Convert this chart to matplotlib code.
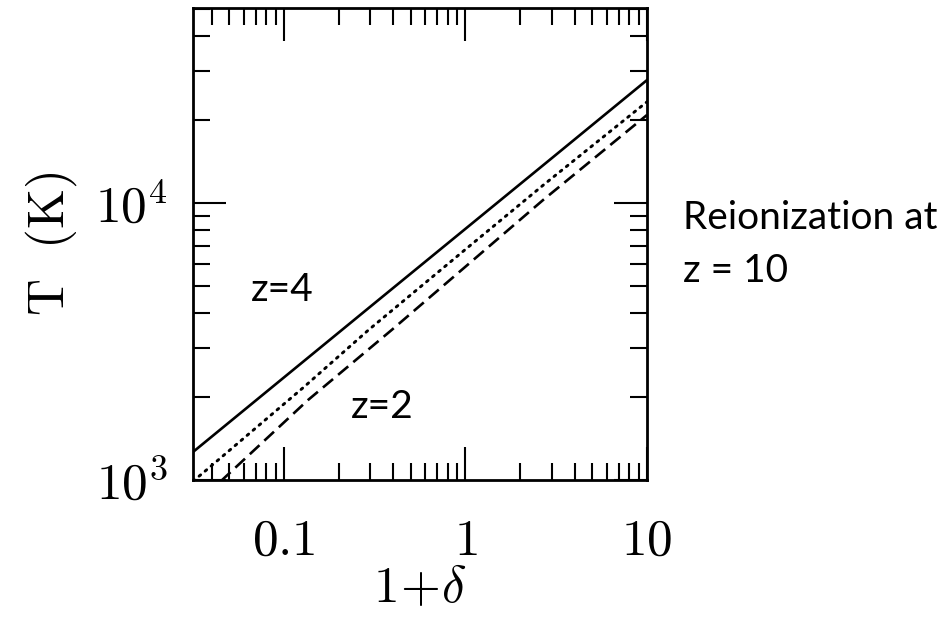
import numpy as np
import matplotlib
matplotlib.use("Agg")
import matplotlib.pyplot as plt
from matplotlib.ticker import LogLocator, NullFormatter

# --------------------------------------------------
# Data
# --------------------------------------------------

delta_solid = [0.0316, 0.1, 0.3, 1.0, 3.0, 10.0]
T_solid = [1262, 2344, 4230, 8070, 14550, 27800]

delta_dotted = [0.0316, 0.0353, 0.129, 0.293, 1.0, 2.68, 10.0]
T_dotted = [990, 1051, 2166, 3483, 6800, 11600, 23200]

delta_dashed = [0.045, 0.0476, 0.136, 0.393, 1.0, 2.68, 10.0]
T_dashed = [990, 1025, 1945, 3483, 5890, 10260, 20800]

xticks = [0.1, 1, 10]
xticklabels = ["$0.1$", "$1$", "$10$"]
yticks = [1e3, 1e4]
yticklabels = ["$10^3$", "$10^4$"]

# --------------------------------------------------
# Figure
# --------------------------------------------------

plt.rcParams["mathtext.fontset"] = "cm"

fig = plt.figure(figsize=(9.47, 6.19), dpi=100)
ax = fig.add_axes([0.2038, 0.2246, 0.4794, 0.7624])

ax.plot(delta_solid, T_solid, color="black", lw=1.9, ls="-")
ax.plot(delta_dotted, T_dotted, color="black", lw=2.1,
        ls=(0, (0.7, 2.0)), dash_capstyle="round")
ax.plot(delta_dashed, T_dashed, color="black", lw=1.9, ls=(0, (5, 2.5)))

ax.set_xscale("log")
ax.set_yscale("log")
ax.set_xlim(0.0316, 10)
ax.set_ylim(1000, 50600)

ax.set_xticks(xticks)
ax.set_xticklabels(xticklabels)
ax.set_yticks(yticks)
ax.set_yticklabels(yticklabels)
ax.xaxis.set_minor_locator(LogLocator(base=10, subs=np.arange(2, 10)))
ax.yaxis.set_minor_locator(LogLocator(base=10, subs=np.arange(2, 10)))
ax.xaxis.set_minor_formatter(NullFormatter())
ax.yaxis.set_minor_formatter(NullFormatter())

ax.tick_params(which="both", direction="in", top=True, right=True,
               color="black", labelsize=37)
ax.tick_params(which="major", length=24, width=1.5)
ax.tick_params(which="minor", length=12, width=1.5)
ax.tick_params(axis="x", which="major", pad=26)
ax.tick_params(axis="y", which="major", pad=18)

for s in ax.spines.values():
    s.set_linewidth(2.0)

ax.set_xlabel(r"$1\!+\!\delta$", fontsize=37, labelpad=-2)
ax.set_ylabel(r"$\mathrm{T\ \ (K)}$", fontsize=37, labelpad=12)

# annotations
ax.text(0.0656, 4850, "z=4", fontsize=28, family="Lato", ha="left", va="center")
ax.text(0.235, 1840, "z=2", fontsize=28, family="Lato", ha="left", va="center")

fig.text(0.721, 0.648, "Reionization at", fontsize=28, family="Lato",
         ha="left", va="center")
fig.text(0.721, 0.563, "z = 10", fontsize=28, family="Lato",
         ha="left", va="center")

fig.savefig("out.png", dpi=100)
